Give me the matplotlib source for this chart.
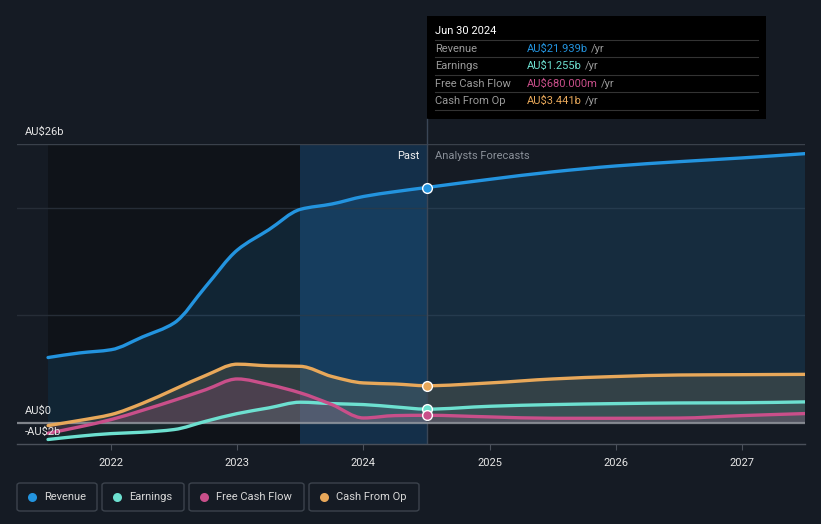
import matplotlib
matplotlib.use("Agg")
import matplotlib.pyplot as plt
from matplotlib.patches import Rectangle, FancyBboxPatch, PathPatch
from matplotlib.path import Path
import numpy as np

plt.rcParams['font.family'] = ['Roboto', 'DejaVu Sans']

# ---- data (AU$ billions) ----
years = [2021.5, 2021.75, 2022.0, 2022.25, 2022.5, 2022.75, 2023.0, 2023.25, 2023.5,
         2023.75, 2024.0, 2024.25, 2024.5, 2025.0, 2025.5, 2026.0, 2026.5, 2027.0, 2027.5]
revenue = [6.07, 6.5, 6.8, 8.0, 9.3, 12.7, 16.1, 18.0, 19.9,
           20.4, 21.1, 21.55, 21.939, 22.7, 23.4, 23.95, 24.35, 24.7, 25.1]
earnings = [-1.58, -1.27, -1.03, -0.9, -0.65, 0.12, 0.84, 1.37, 1.9,
            1.77, 1.68, 1.46, 1.255, 1.52, 1.68, 1.77, 1.83, 1.85, 1.93]
fcf = [-1.0, -0.4, 0.28, 1.15, 2.08, 3.07, 4.07, 3.54, 2.77,
       1.68, 0.43, 0.65, 0.68, 0.53, 0.4, 0.4, 0.42, 0.65, 0.84]
cfo = [-0.28, 0.2, 0.75, 1.8, 3.1, 4.4, 5.45, 5.3, 5.25,
       4.3, 3.7, 3.6, 3.441, 3.7, 4.07, 4.3, 4.44, 4.47, 4.5]
year_ticks = [2022, 2023, 2024, 2025, 2026, 2027]
tooltip_rows = [("Revenue", "AU$21.939b"), ("Earnings", "AU$1.255b"),
                ("Free Cash Flow", "AU$680.000m"), ("Cash From Op", "AU$3.441b")]
legend_names = ["Revenue", "Earnings", "Free Cash Flow", "Cash From Op"]

C_REV = '#2394df'
C_EARN = '#6de0d0'
C_FCF = '#c94f8a'
C_CFO = '#e8a85a'
colors = [C_REV, C_EARN, C_FCF, C_CFO]
BG = '#151b24'

W, H = 821, 524
fig = plt.figure(figsize=(W / 100, H / 100), dpi=100, facecolor=BG)

def fx(px):
    return px / W

def fy(py):
    return 1 - py / H


def monotone_tangents(xs, ys):
    xs = np.asarray(xs, float); ys = np.asarray(ys, float)
    h = np.diff(xs); d = np.diff(ys) / h
    m = np.zeros_like(ys)
    m[0] = d[0]; m[-1] = d[-1]
    for i in range(1, len(ys) - 1):
        if d[i - 1] * d[i] <= 0:
            m[i] = 0.0
        else:
            w1 = 2 * h[i] + h[i - 1]; w2 = h[i] + 2 * h[i - 1]
            m[i] = (w1 + w2) / (w1 / d[i - 1] + w2 / d[i])
    return m


def bezier_vertices(xs, ys):
    """Vertices/codes of a smooth cubic Bezier path through the data points."""
    xs = np.asarray(xs, float); ys = np.asarray(ys, float)
    m = monotone_tangents(xs, ys)
    verts = [(xs[0], ys[0])]
    codes = [Path.MOVETO]
    for i in range(len(xs) - 1):
        h = xs[i + 1] - xs[i]
        verts += [(xs[i] + h / 3, ys[i] + m[i] * h / 3),
                  (xs[i + 1] - h / 3, ys[i + 1] - m[i + 1] * h / 3),
                  (xs[i + 1], ys[i + 1])]
        codes += [Path.CURVE4] * 3
    return verts, codes


def smooth_line(ax, xs, ys, color, lw, z):
    v, c = bezier_vertices(xs, ys)
    ax.add_patch(PathPatch(Path(v, c), facecolor='none', edgecolor=color, lw=lw,
                           zorder=z, capstyle='round', joinstyle='round'))


def smooth_fill(ax, xs, ys, color, alpha, z):
    v, c = bezier_vertices(xs, ys)
    v = v + [(xs[-1], 0), (xs[0], 0), (xs[0], ys[0])]
    c = c + [Path.LINETO, Path.LINETO, Path.CLOSEPOLY]
    ax.add_patch(PathPatch(Path(v, c), facecolor=color, edgecolor='none', alpha=alpha, zorder=z))


ax = fig.add_axes([fx(17), fy(444), (805 - 17) / W, (444 - 144) / H])
ax.set_facecolor(BG)
ax.set_xlim(2021.254, 2027.5)
ax.set_ylim(-2, 26)

now = 2024.5

# background regions
ax.axvspan(2021.5, 2023.5, color='#0f1319', zorder=0, lw=0)
ax.axvspan(2023.5, now, color='#14324e', zorder=0, lw=0, alpha=0.9)

# grid
for g, c in [(10, '#262d37'), (20, '#262d37'), (26, '#3a414b')]:
    ax.axhline(g, color=c, lw=1, zorder=1)

# fills
smooth_fill(ax, years, revenue, C_REV, 0.14, 2)
smooth_fill(ax, years, cfo, '#6b6a5a', 0.35, 3)
smooth_fill(ax, years, fcf, C_FCF, 0.18, 3)
smooth_fill(ax, years, earnings, C_EARN, 0.10, 3)

# lines
for series, c in [(revenue, C_REV), (cfo, C_CFO), (earnings, C_EARN), (fcf, C_FCF)]:
    smooth_line(ax, years, series, c, 2.4, 6)

ax.axhline(0, color='#9a9ea5', lw=1.6, alpha=0.8, zorder=5)

# markers at current date
idx = years.index(now)
for series, c in [(revenue, C_REV), (cfo, C_CFO), (earnings, C_EARN), (fcf, C_FCF)]:
    ax.plot([now], [series[idx]], marker='o', ms=7, mfc=c, mec='white', mew=1.0, zorder=8)

ax.axvline(now, color='#3a4656', lw=1, zorder=4)

# axes styling
for s in ['top', 'right', 'left']:
    ax.spines[s].set_visible(False)
ax.spines['bottom'].set_color('#4a505a')
ax.spines['bottom'].set_linewidth(1)
ax.set_yticks([])
ax.set_xticks(year_ticks)
ax.set_xticklabels([str(t) for t in year_ticks], color='#e6e6e6', fontsize=8)
ax.tick_params(axis='x', length=4, color='#4a505a', pad=6)

# y labels
fig.text(fx(25), fy(132), "AU$26b", color='#e6e6e6', fontsize=8, va='center', ha='left')
fig.text(fx(25), fy(411), "AU$0", color='#e6e6e6', fontsize=8, va='center', ha='left')
fig.text(fx(25), fy(432), "-AU$2b", color='#e6e6e6', fontsize=8, va='center', ha='left', zorder=0)

# past / forecast labels
fig.text(fx(420), fy(156), "Past", color='#f0f0f0', fontsize=8, va='center', ha='right')
fig.text(fx(435), fy(156), "Analysts Forecasts", color='#8a9099', fontsize=8, va='center', ha='left')

# vertical line above plot up to tooltip
fig.add_artist(plt.Line2D([fx(427), fx(427)], [fy(119), fy(144)], color='#3a4656', lw=1))

# tooltip
fig.add_artist(Rectangle((fx(427), fy(119)), (766 - 427) / W, (119 - 16) / H,
                         facecolor='#000000', edgecolor='none'))
fig.text(fx(435), fy(31), "Jun 30 2024", color='white', fontsize=8, va='center', ha='left')
row_y = [49, 66, 84, 101]
sep_y = [40, 57, 75, 92, 110]
for sy in sep_y:
    fig.add_artist(plt.Line2D([fx(435), fx(758)], [fy(sy), fy(sy)], color='#333333', lw=0.8))
for (lab, val), ry, c in zip(tooltip_rows, row_y, colors):
    fig.text(fx(435), fy(ry), lab, color='#9a9a9a', fontsize=8, va='center', ha='left')
    t = fig.text(fx(527), fy(ry), val, color=c, fontsize=8, va='center', ha='left')
    fig.canvas.draw()
    bb = t.get_window_extent()
    fig.text(bb.x1 / W + fx(3), fy(ry), "/yr", color='#9a9a9a', fontsize=8, va='center', ha='left')

# legend
boxes = [(17, 97), (102, 184), (189, 304), (309, 419)]
for (x0, x1), name, c in zip(boxes, legend_names, colors):
    fig.add_artist(FancyBboxPatch((fx(x0), fy(511)), (x1 - x0) / W, (511 - 483) / H,
                                  boxstyle="round,pad=0,rounding_size=0.004",
                                  facecolor='none', edgecolor='#3c434d', lw=1))
    fig.add_artist(plt.Line2D([fx(x0 + 15)], [fy(497)], marker='o', ms=6.5, color=c, mec='none'))
    fig.text(fx(x0 + 27), fy(497), name, color='#d8d8d8', fontsize=8, va='center', ha='left')

fig.savefig("out.png", dpi=100, facecolor=BG)
